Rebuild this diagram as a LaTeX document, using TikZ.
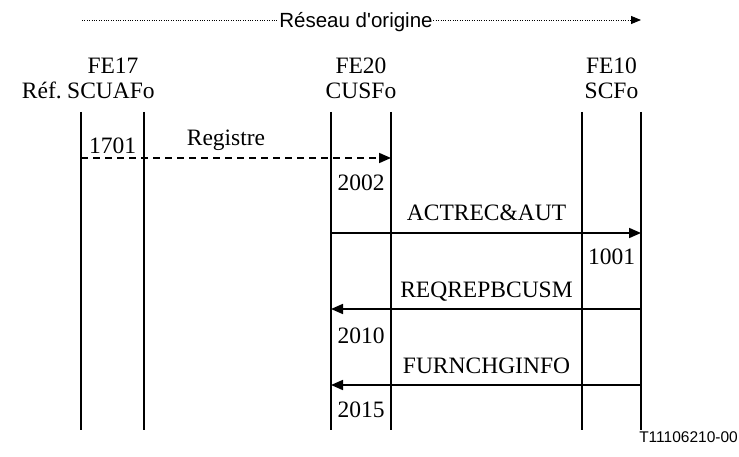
\documentclass[tikz,border=0pt]{standalone}
\usepackage{fontspec}
\setmainfont{Liberation Serif}
\newfontfamily\labelsans{Liberation Sans}
\usetikzlibrary{arrows.meta}
\begin{document}
\begin{tikzpicture}[x=1pt,y=-1pt,
  txt/.style={font=\fontsize{23.5}{26}\selectfont, inner sep=0pt, anchor=base},
  life/.style={line width=1.7pt},
  msg/.style={line width=1.7pt, -{Triangle[length=12pt,width=10pt]}},
  async/.style={msg, dash pattern=on 7pt off 5pt},
  span/.style={line width=0.9pt, dash pattern=on 1pt off 1.4pt}]
\useasboundingbox (0,0) rectangle (739,457);

% lifeline end points
\foreach \n/\x in {a/81, b/144, c/331, d/391, e/582, f/641}{
  \coordinate (\n top) at (\x,112);
  \coordinate (\n bot) at (\x,430);
}
\foreach \n in {a,b,c,d,e,f}{
  \draw[life] (\n top) -- (\n bot);
}

% network span arrow
\node[font=\labelsans\fontsize{20.5}{23}\selectfont, inner sep=0.5pt, anchor=base] (net) at (356,28) {Réseau d'origine};
\coordinate (netL) at (82,20);
\coordinate (netR) at (641,20);
\draw[span] (netL) -- (net.west |- netL);
\draw[span, -{Triangle[length=10pt,width=8pt]}] (net.east |- netR) -- (netR);

% functional entity headings
\node[txt] (fe17) at (113,74) {FE17};
\node[txt] (scuafo) at (111,99) {SCUAFo};
\node[txt] (fe20) at (361,74) {FE20};
\node[txt] (cusfo) at (361,99) {CUSFo};
\node[txt] (fe10) at (611.5,74) {FE10};
\node[txt] (scfo) at (611.5,99) {SCFo};
\node[txt, anchor=base east] (ref) at (62,99) {Réf.};

% message anchor points
\coordinate (m1s) at (81,158);  \coordinate (m1e) at (391,158);
\coordinate (m2s) at (331,233); \coordinate (m2e) at (641,233);
\coordinate (m3s) at (641,309); \coordinate (m3e) at (331,309);
\coordinate (m4s) at (641,385); \coordinate (m4e) at (331,385);

\draw[async] (m1s) -- (m1e);
\draw[msg] (m2s) -- (m2e);
\draw[msg] (m3s) -- (m3e);
\draw[msg] (m4s) -- (m4e);

% message names
\node[txt] (reg) at (226,146) {Registre};
\node[txt] (actrec) at (486.5,221) {ACTREC\&AUT};
\node[txt] (reqrep) at (486.5,297) {REQREPBCUSM};
\node[txt] (furn) at (486.5,373) {FURNCHGINFO};

% information flow numbers
\node[txt] (n1701) at (112.5,154) {1701};
\node[txt] (n2002) at (361,191) {2002};
\node[txt] (n1001) at (611.5,265) {1001};
\node[txt] (n2010) at (361,343) {2010};
\node[txt] (n2015) at (361,417) {2015};

% figure reference
\node[font=\labelsans\fontsize{15.5}{18}\selectfont, inner sep=0pt, anchor=base east] (fig) at (738,442.5) {T11106210-00};
\end{tikzpicture}
\end{document}
